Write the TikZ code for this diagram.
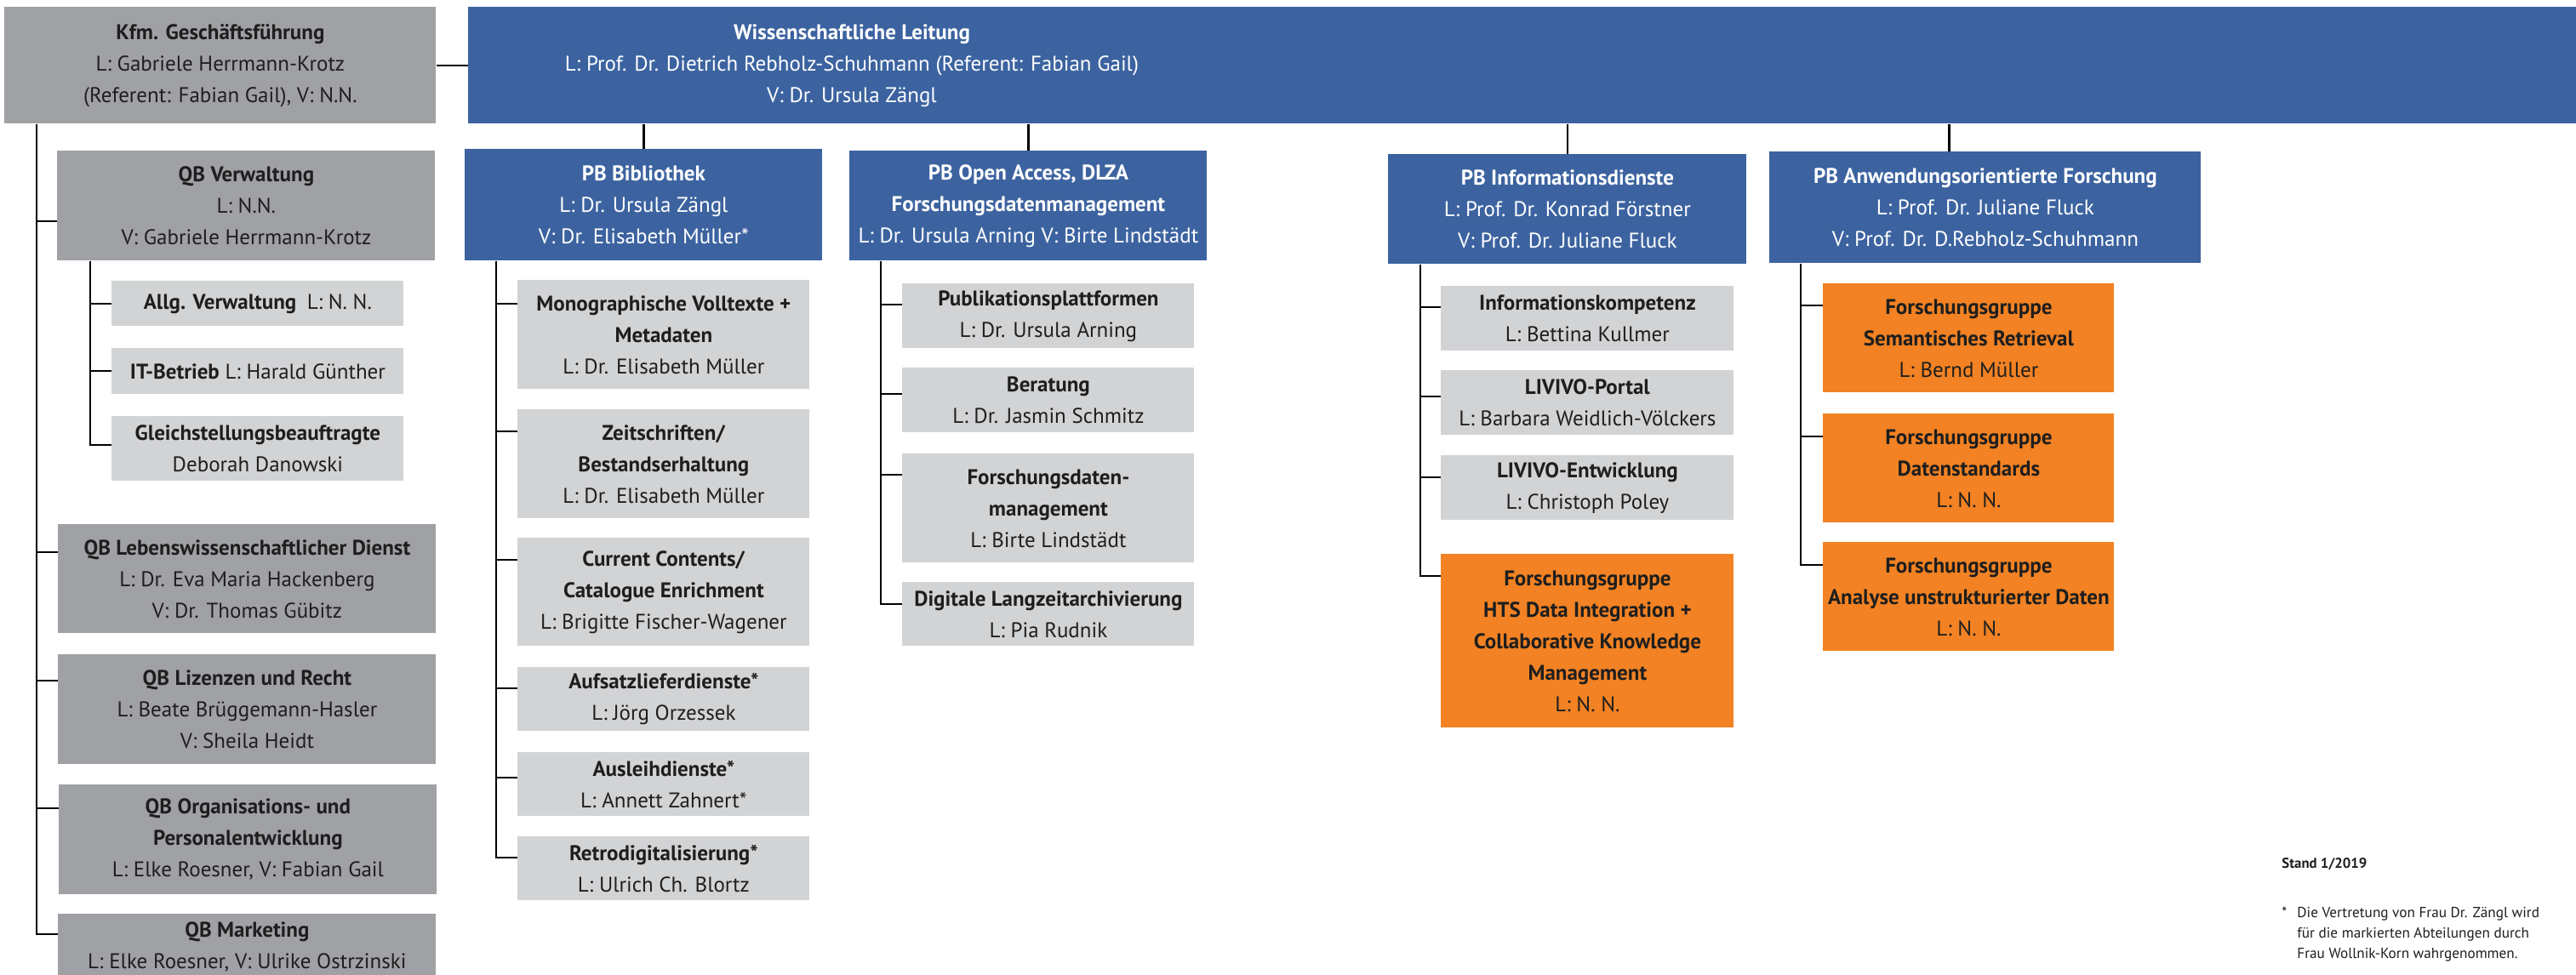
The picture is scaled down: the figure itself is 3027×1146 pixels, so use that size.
\documentclass[tikz,border=0pt]{standalone}
\usepackage{fontspec}
\setmainfont{PT Sans}
\definecolor{blueC}{HTML}{3C63A0}
\definecolor{dgray}{HTML}{A0A1A5}
\definecolor{lgray}{HTML}{D2D3D5}
\definecolor{orangeC}{HTML}{F28223}
\definecolor{ink}{HTML}{1E1E1E}
\begin{document}
\begin{tikzpicture}[x=0.5pt,y=-0.5pt,
  base/.style={anchor=north west, inner sep=0pt, align=center, font=\fontsize{12.5}{18.5}\selectfont},
  bluebox/.style={base, fill=blueC, text=white},
  darkbox/.style={base, fill=dgray, text=ink},
  lightbox/.style={base, fill=lgray, text=ink},
  orangebox/.style={base, fill=orangeC, text=ink},
  notetext/.style={anchor=base west, inner sep=0pt, text=ink, font=\fontsize{8.6}{12}\selectfont},
  conn/.style={line width=1.1pt, black}]
\clip (0,0) rectangle (3027,1146);
\fill[white] (0,0) rectangle (3027,1146);

% top level
\node[darkbox, minimum width=253.5pt, minimum height=68.5pt] (kfm) at (5,8)
  {\textbf{Kfm. Geschäftsführung}\\L: Gabriele Herrmann-Krotz\\(Referent: Fabian Gail), V: N.N.};
\node[bluebox, minimum width=1245pt, minimum height=68.5pt] (wiss) at (550,8) {};
\node[base, anchor=center, text=white] (wisstext) at (1001,77)
  {\textbf{Wissenschaftliche Leitung}\\L: Prof. Dr. Dietrich Rebholz-Schuhmann (Referent: Fabian Gail)\\V: Dr. Ursula Zängl};

% QB column
\node[darkbox, minimum width=222pt, minimum height=64.5pt] (qbverw) at (67,177)
  {\textbf{QB Verwaltung}\\L: N.N.\\V: Gabriele Herrmann-Krotz};
\node[lightbox, minimum width=171.5pt, minimum height=26.5pt] (allg) at (131,330)
  {\textbf{Allg. Verwaltung}\enspace L: N. N.};
\node[lightbox, minimum width=171.5pt, minimum height=27pt] (it) at (131,409)
  {\textbf{IT-Betrieb} L: Harald Günther};
\node[lightbox, minimum width=171.5pt, minimum height=38pt] (gleich) at (131,489)
  {\textbf{Gleichstellungsbeauftragte}\\Deborah Danowski};
\node[darkbox, minimum width=222pt, minimum height=64pt] (qbleb) at (68,616)
  {\textbf{QB Lebenswissenschaftlicher Dienst}\\L: Dr. Eva Maria Hackenberg\\V: Dr. Thomas Gübitz};
\node[darkbox, minimum width=222pt, minimum height=64.5pt] (qbliz) at (68,769)
  {\textbf{QB Lizenzen und Recht}\\L: Beate Brüggemann-Hasler\\V: Sheila Heidt};
\node[darkbox, minimum width=222pt, minimum height=64.5pt] (qborg) at (69,922)
  {\textbf{QB Organisations- und}\\\textbf{Personalentwicklung}\\L: Elke Roesner, V: Fabian Gail};
\node[darkbox, minimum width=222pt, minimum height=38.5pt] (qbmark) at (68,1074)
  {\textbf{QB Marketing}\\L: Elke Roesner, V: Ulrike Ostrzinski};

% PB boxes
\node[bluebox, minimum width=210pt, minimum height=65.5pt] (pbbib) at (546,175)
  {\textbf{PB Bibliothek}\\L: Dr. Ursula Zängl\\V: Dr. Elisabeth Müller*};
\node[bluebox, minimum width=210pt, minimum height=64.5pt] (pboa) at (998,177)
  {\textbf{PB Open Access, DLZA}\\\textbf{Forschungsdatenmanagement}\\L: Dr. Ursula Arning V: Birte Lindstädt};
\node[bluebox, minimum width=210.5pt, minimum height=64.5pt] (pbinfo) at (1631,181)
  {\textbf{PB Informationsdienste}\\L: Prof. Dr. Konrad Förstner\\V: Prof. Dr. Juliane Fluck};
\node[bluebox, minimum width=253.5pt, minimum height=65.5pt] (pbanw) at (2079,178)
  {\textbf{PB Anwendungsorientierte Forschung}\\L: Prof. Dr. Juliane Fluck\\V: Prof. Dr. D.Rebholz-Schuhmann};

% Bibliothek children
\node[lightbox, minimum width=171.5pt, minimum height=64pt] (mono) at (608,329)
  {\textbf{Monographische Volltexte +}\\\textbf{Metadaten}\\L: Dr. Elisabeth Müller};
\node[lightbox, minimum width=171.5pt, minimum height=64pt] (zeit) at (608,481)
  {\textbf{Zeitschriften/}\\\textbf{Bestandserhaltung}\\L: Dr. Elisabeth Müller};
\node[lightbox, minimum width=171.5pt, minimum height=63.5pt] (curr) at (608,632)
  {\textbf{Current Contents/}\\\textbf{Catalogue Enrichment}\\L: Brigitte Fischer-Wagener};
\node[lightbox, minimum width=171.5pt, minimum height=37.5pt] (aufs) at (608,784)
  {\textbf{Aufsatzlieferdienste*}\\L: Jörg Orzessek};
\node[lightbox, minimum width=171.5pt, minimum height=37.5pt] (ausl) at (608,884)
  {\textbf{Ausleihdienste*}\\L: Annett Zahnert*};
\node[lightbox, minimum width=171.5pt, minimum height=37.5pt] (retro) at (608,983)
  {\textbf{Retrodigitalisierung*}\\L: Ulrich Ch. Blortz};

% Open Access children
\node[lightbox, minimum width=171.5pt, minimum height=38pt] (publ) at (1060,333)
  {\textbf{Publikationsplattformen}\\L: Dr. Ursula Arning};
\node[lightbox, minimum width=171.5pt, minimum height=38pt] (berat) at (1060,432)
  {\textbf{Beratung}\\L: Dr. Jasmin Schmitz};
\node[lightbox, minimum width=171.5pt, minimum height=64pt] (fdm) at (1060,533)
  {\textbf{Forschungsdaten-}\\\textbf{management}\\L: Birte Lindstädt};
\node[lightbox, minimum width=171.5pt, minimum height=37.5pt] (digi) at (1060,684)
  {\textbf{Digitale Langzeitarchivierung}\\L: Pia Rudnik};

% Informationsdienste children
\node[lightbox, minimum width=172pt, minimum height=38pt] (infok) at (1693,336)
  {\textbf{Informationskompetenz}\\L: Bettina Kullmer};
\node[lightbox, minimum width=172pt, minimum height=38pt] (livp) at (1693,435)
  {\textbf{LIVIVO-Portal}\\L: Barbara Weidlich-Völckers};
\node[lightbox, minimum width=172pt, minimum height=38pt] (live) at (1693,535)
  {\textbf{LIVIVO-Entwicklung}\\L: Christoph Poley};
\node[orangebox, minimum width=172pt, minimum height=102pt] (hts) at (1693,651)
  {\textbf{Forschungsgruppe}\\\textbf{HTS Data Integration +}\\\textbf{Collaborative Knowledge}\\\textbf{Management}\\L: N. N.};

% Anwendungsorientierte Forschung children
\node[orangebox, minimum width=171pt, minimum height=64pt] (sem) at (2142,333)
  {\textbf{Forschungsgruppe}\\\textbf{Semantisches Retrieval}\\L: Bernd Müller};
\node[orangebox, minimum width=171pt, minimum height=64pt] (dstd) at (2142,486)
  {\textbf{Forschungsgruppe}\\\textbf{Datenstandards}\\L: N. N.};
\node[orangebox, minimum width=171pt, minimum height=64pt] (anal) at (2142,637)
  {\textbf{Forschungsgruppe}\\\textbf{Analyse unstrukturierter Daten}\\L: N. N.};

% footnotes
\node[notetext, font=\fontsize{8.4}{12}\selectfont\bfseries] (stand) at (2681,1020) {Stand 1/2019};
\node[notetext] (star) at (2681,1078) {*};
\node[notetext, align=left] (note) at (2699,1126)
  {Die Vertretung von Frau Dr. Zängl wird\\für die markierten Abteilungen durch\\Frau Wollnik-Korn wahrgenommen.};

% connectors top
\draw[conn] (kfm.east) -- (kfm.east -| wiss.west);
\draw[conn] (wiss.south -| pbbib.north) -- (pbbib.north);
\draw[conn] (wiss.south -| pboa.north) -- (pboa.north);
\draw[conn] (wiss.south -| pbinfo.north) -- (pbinfo.north);
\draw[conn] ([xshift=-21.25pt]wiss.south -| pbanw.north) -- ([xshift=-21.25pt]pbanw.north);

% Kfm tree
\coordinate (kt) at ([xshift=19pt]kfm.south west);
\draw[conn] (kt) |- ([yshift=-41.5pt]qbverw.north west);
\draw[conn] (kt) |- ([yshift=-16.5pt]qbleb.north west);
\draw[conn] (kt) |- ([yshift=-15.5pt]qbliz.north west);
\draw[conn] (kt) |- ([yshift=-14pt]qborg.north west);
\draw[conn] (kt) |- ([yshift=-12pt]qbmark.north west);

% QB Verwaltung tree
\coordinate (vt) at ([xshift=19.5pt]qbverw.south west);
\draw[conn] (vt) |- ([yshift=-13.5pt]allg.north west);
\draw[conn] (vt) |- ([yshift=-13.5pt]it.north west);
\draw[conn] (vt) |- ([yshift=-17pt]gleich.north west);

% Bibliothek tree
\coordinate (bt) at ([xshift=18.5pt]pbbib.south west);
\draw[conn] (bt) |- ([yshift=-14pt]mono.north west);
\draw[conn] (bt) |- ([yshift=-13pt]zeit.north west);
\draw[conn] (bt) |- ([yshift=-13pt]curr.north west);
\draw[conn] (bt) |- ([yshift=-12.5pt]aufs.north west);
\draw[conn] (bt) |- ([yshift=-15pt]ausl.north west);
\draw[conn] (bt) |- ([yshift=-12.5pt]retro.north west);

% Open Access tree
\coordinate (ot) at ([xshift=18.5pt]pboa.south west);
\draw[conn] (ot) |- ([yshift=-12.5pt]publ.north west);
\draw[conn] (ot) |- ([yshift=-15.5pt]berat.north west);
\draw[conn] (ot) |- ([yshift=-12.5pt]fdm.north west);
\draw[conn] (ot) |- ([yshift=-13pt]digi.north west);

% Informationsdienste tree
\coordinate (it0) at ([xshift=19pt]pbinfo.south west);
\draw[conn] (it0) |- ([yshift=-12.5pt]infok.north west);
\draw[conn] (it0) |- ([yshift=-15.5pt]livp.north west);
\draw[conn] (it0) |- ([yshift=-13pt]live.north west);
\draw[conn] (it0) |- ([yshift=-13pt]hts.north west);

% Anwendung tree
\coordinate (at0) at ([xshift=18.5pt]pbanw.south west);
\draw[conn] (at0) |- ([yshift=-13pt]sem.north west);
\draw[conn] (at0) |- ([yshift=-13.5pt]dstd.north west);
\draw[conn] (at0) |- ([yshift=-13.5pt]anal.north west);
\end{tikzpicture}
\end{document}
